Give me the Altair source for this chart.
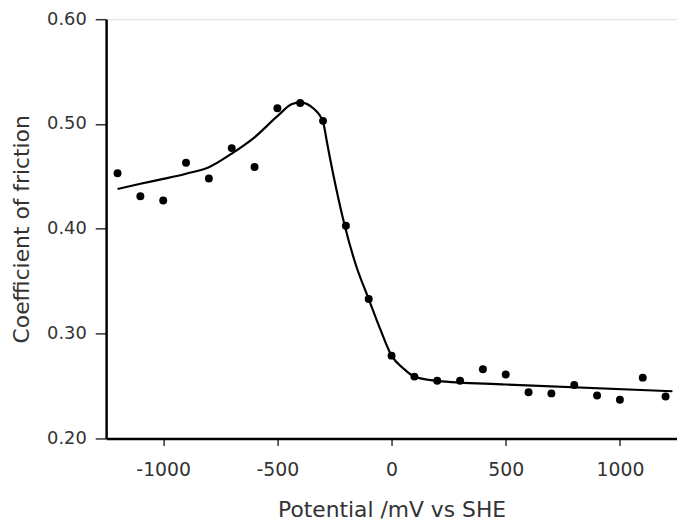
import altair as alt
import pandas as pd

# measured points
pt_potential = [-1200, -1100, -1000, -900, -800, -700, -600, -500, -400, -300, -200, -100,
                0, 100, 200, 300, 400, 500, 600, 700, 800, 900, 1000, 1100, 1200]
pt_cof = [0.453, 0.431, 0.427, 0.463, 0.448, 0.477, 0.459, 0.515, 0.520, 0.503, 0.403, 0.333,
          0.279, 0.259, 0.255, 0.255, 0.266, 0.261, 0.244, 0.243, 0.251, 0.241, 0.237, 0.258, 0.240]

# fitted curve
line_potential = [-1200, -1100, -1000, -900, -800, -700, -600, -500, -436, -400, -343, -300,
                  -284, -271, -242, -205, -157, -100, -49, 0, 51, 100, 200, 500, 1230]
line_cof = [0.438, 0.443, 0.4476, 0.4526, 0.4588, 0.4718, 0.4873, 0.5075, 0.519, 0.5206, 0.515, 0.502,
            0.484, 0.469, 0.438, 0.403, 0.366, 0.333, 0.304, 0.279, 0.267, 0.259, 0.255, 0.2515, 0.245]

pts = pd.DataFrame({"x": pt_potential, "y": pt_cof})
crv = pd.DataFrame({"x": line_potential, "y": line_cof})

FONT = "DejaVu Sans"
TXT = "#333333"

xscale = alt.Scale(domain=[-1250, 1250], nice=False, zero=False)
yscale = alt.Scale(domain=[0.2, 0.6], nice=False, zero=False)

xaxis = alt.Axis(values=[-1000, -500, 0, 500, 1000], grid=False,
                 labelExpr="datum.value < 0 ? '-' + abs(datum.value) : '' + datum.value",
                 domainColor="black", domainWidth=2.5, tickColor="#333", tickSize=7,
                 tickWidth=1.5, labelFontSize=19, labelColor=TXT, labelPadding=15,
                 labelFont=FONT, title="Potential /mV vs SHE", titleFont=FONT,
                 titleFontSize=22, titleFontWeight="normal", titleColor=TXT,
                 titlePadding=21)
yaxis = alt.Axis(values=[0.2, 0.3, 0.4, 0.5, 0.6], format=".2f", grid=False,
                 domainColor="black", domainWidth=2.5, tickColor="#333", tickSize=11,
                 tickWidth=1.5, labelFontSize=18, labelColor=TXT, labelPadding=9,
                 labelFont=FONT, title="Coefficient of friction", titleFont=FONT,
                 titleFontSize=22, titleFontWeight="normal", titleColor=TXT,
                 titlePadding=13)

line = alt.Chart(crv).mark_line(color="black", strokeWidth=2.2, interpolate="monotone").encode(
    x=alt.X("x:Q", scale=xscale, axis=xaxis),
    y=alt.Y("y:Q", scale=yscale, axis=yaxis),
)
points = alt.Chart(pts).mark_circle(color="black", size=64, opacity=1).encode(
    x=alt.X("x:Q", scale=xscale),
    y=alt.Y("y:Q", scale=yscale),
)

chart = (line + points).properties(
    width=576, height=423,
    autosize=alt.AutoSizeParams(type="none"),
    padding={"left": 99, "top": 9, "right": 0, "bottom": 82},
).configure_view(stroke=None).configure(background="white")

chart.save("out.html", embed_options={"renderer": "svg", "actions": False})
